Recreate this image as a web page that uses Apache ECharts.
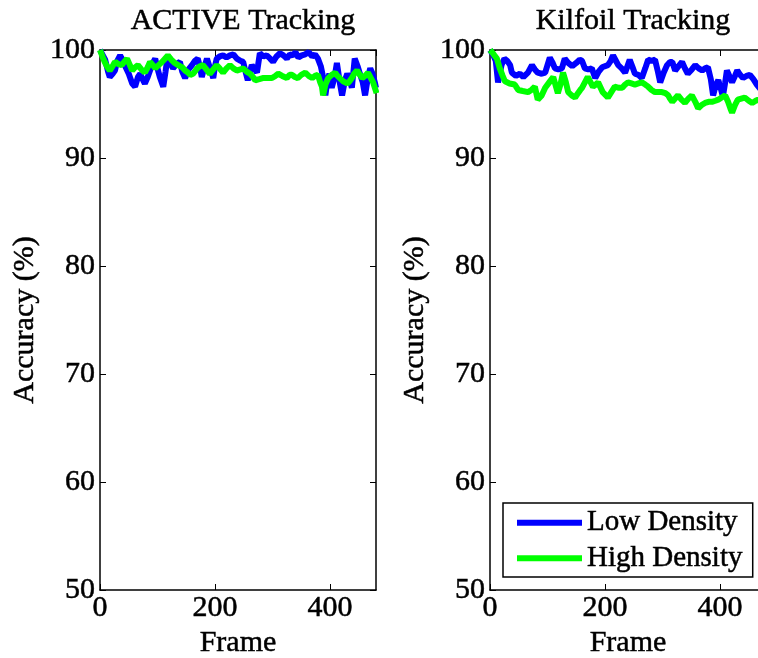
<!DOCTYPE html>
<html>
<head>
<meta charset="utf-8">
<script src="https://cdn.jsdelivr.net/npm/echarts@6/dist/echarts.min.js"></script>
<style>
  html, body { margin: 0; padding: 0; background: #fff; }
  #chart { width: 758px; height: 658px; }
</style>
</head>
<body>
<div id="chart"></div>
<script>
// ACTIVE tracking, low density
const activeLowFrames = [0, 5, 9, 14, 17, 22, 26, 30, 35, 40, 43, 50, 56, 61, 66, 70, 74, 78, 83, 87, 92, 96, 100, 104, 110, 114, 117, 122, 127, 133, 139, 143, 148, 154, 160, 165, 170, 174, 177, 182, 186, 192, 197, 200, 203, 208, 214, 220, 226, 232, 238, 244, 249, 253, 257, 261, 264, 268, 273, 278, 284, 290, 296, 301, 307, 313, 319, 325, 330, 335, 340, 345, 351, 357, 363, 369, 374, 379, 384, 388, 392, 395, 399, 403, 408, 412, 417, 421, 426, 430, 434, 438, 443, 448, 452, 457, 461, 466, 470, 474, 478, 480];
const activeLowValues = [100, 99.5, 99.1, 98.0, 97.5, 97.8, 98.1, 99.0, 99.5, 99.0, 98.6, 97.8, 96.9, 96.6, 97.5, 97.8, 97.3, 96.9, 97.5, 98.1, 98.8, 99.2, 98.3, 97.5, 96.6, 98.0, 99.2, 98.8, 98.3, 98.7, 98.9, 98.0, 97.4, 98.2, 98.6, 99.0, 99.2, 98.4, 97.5, 98.5, 99.2, 98.2, 97.4, 98.5, 99.2, 99.4, 99.5, 99.3, 99.5, 99.6, 99.2, 99.0, 98.9, 98.0, 97.2, 98.0, 98.6, 98.3, 97.9, 99.7, 99.4, 99.5, 99.2, 98.9, 99.4, 99.7, 99.5, 99.2, 99.6, 99.5, 99.8, 99.3, 99.5, 99.6, 99.8, 99.4, 99.6, 99.2, 98.5, 97.5, 95.8, 97.0, 97.8, 96.5, 97.5, 98.8, 97.0, 95.8, 97.2, 97.8, 97.3, 96.5, 99.2, 98.5, 97.8, 97.0, 95.8, 97.5, 98.3, 97.8, 97.0, 96.5];

// ACTIVE tracking, high density
const activeHighFrames = [0, 5, 9, 13, 17, 22, 26, 32, 38, 42, 47, 52, 56, 61, 66, 72, 78, 83, 87, 92, 96, 102, 108, 113, 118, 124, 130, 136, 143, 148, 153, 157, 162, 169, 174, 179, 185, 191, 197, 203, 208, 214, 220, 226, 232, 238, 244, 249, 255, 261, 266, 270, 277, 283, 290, 299, 305, 310, 317, 325, 330, 334, 339, 344, 350, 357, 363, 369, 374, 379, 383, 386, 388, 392, 397, 403, 409, 413, 417, 423, 430, 434, 438, 442, 447, 452, 456, 461, 466, 470, 475, 478, 481];
const activeHighValues = [100, 99.3, 98.8, 98.4, 98.1, 98.5, 98.9, 98.7, 98.6, 98.9, 99.2, 98.6, 98.1, 98.4, 98.6, 98.2, 97.9, 98.4, 98.9, 98.6, 98.3, 98.6, 98.9, 99.2, 99.5, 99.1, 98.8, 98.6, 98.4, 98.1, 97.9, 97.7, 97.8, 98.3, 98.5, 98.6, 98.2, 97.8, 98.2, 98.6, 98.3, 97.9, 98.3, 98.6, 98.3, 98.1, 98.2, 98.3, 98.0, 97.8, 97.5, 97.2, 97.3, 97.4, 97.4, 97.4, 97.6, 97.8, 97.6, 97.4, 97.7, 97.7, 97.5, 97.4, 97.7, 97.9, 97.6, 97.4, 97.6, 97.7, 97.0, 96.6, 95.8, 96.8, 97.4, 97.7, 97.9, 97.6, 97.4, 97.1, 96.9, 97.1, 97.4, 97.8, 98.1, 97.7, 97.4, 97.6, 97.9, 97.5, 97.0, 96.5, 96.0];

// Kilfoil tracking, low density
const kilfoilLowFrames = [0, 5, 10, 14, 17, 20, 25, 30, 35, 38, 45, 52, 58, 66, 73, 78, 83, 90, 96, 100, 104, 109, 113, 119, 125, 130, 136, 143, 150, 156, 160, 165, 171, 177, 183, 189, 195, 205, 210, 214, 218, 223, 229, 235, 239, 243, 248, 252, 258, 264, 270, 275, 281, 287, 292, 296, 302, 308, 313, 317, 322, 328, 334, 339, 344, 351, 357, 363, 369, 374, 379, 384, 388, 393, 397, 401, 405, 409, 412, 417, 421, 426, 430, 435, 440, 446, 452, 458, 464, 470, 480];
const kilfoilLowValues = [100, 99.6, 99.0, 97.0, 97.8, 98.6, 99.2, 99.0, 98.6, 97.9, 97.6, 97.8, 97.5, 97.9, 98.6, 98.2, 97.9, 97.8, 97.9, 98.6, 99.3, 98.8, 98.3, 98.2, 98.3, 99.2, 98.8, 98.5, 98.8, 99.1, 99.0, 98.3, 98.2, 98.3, 97.4, 98.0, 98.4, 98.6, 99.0, 99.5, 99.1, 98.6, 98.3, 97.9, 98.5, 99.1, 98.4, 97.8, 97.7, 97.4, 98.3, 99.1, 99.0, 99.1, 98.0, 97.0, 97.9, 98.6, 98.9, 98.9, 98.1, 98.5, 98.9, 98.3, 97.8, 98.2, 98.6, 98.3, 98.1, 98.3, 98.4, 97.3, 95.8, 96.8, 97.2, 96.5, 95.7, 97.0, 98.1, 97.5, 97.0, 97.6, 98.1, 97.7, 97.4, 97.6, 97.7, 97.3, 96.8, 96.4, 96.3];

// Kilfoil tracking, high density
const kilfoilHighFrames = [0, 5, 9, 12, 17, 22, 26, 34, 43, 49, 57, 66, 72, 78, 83, 90, 96, 103, 110, 118, 123, 127, 132, 136, 142, 148, 153, 157, 160, 165, 170, 175, 179, 184, 188, 196, 205, 211, 217, 224, 230, 235, 240, 246, 252, 258, 264, 270, 275, 281, 287, 293, 299, 305, 310, 313, 317, 322, 327, 333, 339, 345, 351, 357, 362, 368, 374, 380, 386, 392, 397, 403, 409, 414, 418, 421, 426, 431, 437, 443, 450, 456, 462, 466, 472, 480];
const kilfoilHighValues = [100, 99.7, 99.4, 99.2, 98.3, 97.6, 97.1, 96.9, 96.8, 96.3, 96.2, 96.1, 96.3, 96.6, 95.4, 95.8, 96.5, 97.0, 97.5, 96.0, 96.9, 97.9, 97.0, 96.1, 95.8, 95.6, 96.0, 96.3, 96.5, 97.0, 97.5, 97.0, 96.6, 96.8, 97.0, 96.1, 95.6, 96.1, 96.6, 96.5, 96.5, 96.8, 97.0, 96.9, 96.8, 96.9, 97.0, 96.8, 96.6, 96.3, 96.1, 96.1, 96.1, 96.0, 95.8, 95.5, 95.2, 95.5, 95.8, 95.4, 95.1, 95.5, 95.8, 95.2, 94.6, 94.9, 95.1, 95.2, 95.2, 95.3, 95.4, 95.6, 95.8, 95.2, 94.6, 94.2, 94.9, 95.4, 95.5, 95.6, 95.3, 95.1, 95.3, 95.4, 95.2, 95.0];

const xTicks = [0, 200, 400];
const yTicks = [50, 60, 70, 80, 90, 100];
const seriesNames = ['Low Density', 'High Density'];
const titles = ['ACTIVE Tracking', 'Kilfoil Tracking'];

const FONT = 'Liberation Serif';
const BLUE = '#0000ff';
const GREEN = '#00ff00';
// matlab export renders the serif text a bit heavier
const INK = { color: '#000', textBorderColor: '#000', textBorderWidth: 0.5 };

const zip = (xs, ys) => xs.map((x, i) => [x, ys[i]]);

const chart = echarts.init(document.getElementById('chart'));

const grids = [
    { left: 100, top: 50, width: 276, height: 540, outerBoundsMode: 'none', containLabel: false },
    { left: 490, top: 50, width: 276, height: 540, outerBoundsMode: 'none', containLabel: false }
];

function xAxes(gi) {
    const base = {
        gridIndex: gi,
        type: 'value',
        min: xTicks[0],
        max: 480,
        interval: xTicks[1] - xTicks[0],
        splitLine: { show: false },
        axisLine: { show: true, onZero: false, lineStyle: { color: '#000', width: 1.5 } },
        axisTick: { show: true, inside: true, length: 6, lineStyle: { color: '#000', width: 1 } }
    };
    return [
        Object.assign({}, base, {
            position: 'bottom',
            name: 'Frame',
            nameLocation: 'middle',
            nameGap: 37,
            nameTextStyle: Object.assign({ fontFamily: FONT, fontSize: 30 }, INK),
            axisLabel: Object.assign({
                fontFamily: FONT, fontSize: 30, margin: 3,
                showMaxLabel: false,
                formatter: v => (xTicks.indexOf(v) >= 0 ? String(v) : '')
            }, INK)
        }),
        Object.assign({}, base, { position: 'top', axisLabel: { show: false } })
    ];
}

function yAxes(gi) {
    const base = {
        gridIndex: gi,
        type: 'value',
        min: yTicks[0],
        max: yTicks[yTicks.length - 1],
        interval: yTicks[1] - yTicks[0],
        splitLine: { show: false },
        axisLine: { show: true, onZero: false, lineStyle: { color: '#000', width: 1.5 } },
        axisTick: { show: true, inside: true, length: 6, lineStyle: { color: '#000', width: 1 } }
    };
    return [
        Object.assign({}, base, {
            position: 'left',
            name: 'Accuracy (%)',
            nameLocation: 'middle',
            nameGap: 60,
            nameTextStyle: Object.assign({ fontFamily: FONT, fontSize: 30 }, INK),
            axisLabel: Object.assign({ fontFamily: FONT, fontSize: 30, margin: 5 }, INK)
        }),
        Object.assign({}, base, { position: 'right', axisLabel: { show: false } })
    ];
}

function lineSeries(name, data, gi, color) {
    return {
        name: name,
        type: 'line',
        xAxisIndex: gi * 2,
        yAxisIndex: gi * 2,
        data: data,
        showSymbol: false,
        symbol: 'none',
        color: color,
        lineStyle: { color: color, width: 6 },
        animation: false
    };
}

chart.setOption({
    animation: false,
    title: titles.map((t, i) => ({
        text: t,
        left: grids[i].left + 138,
        textAlign: 'center',
        top: 1,
        textStyle: Object.assign({ fontFamily: FONT, fontSize: 30, fontWeight: 'normal' }, INK)
    })),
    legend: {
        data: seriesNames,
        orient: 'vertical',
        left: 503,
        top: 503,
        icon: 'rect',
        itemWidth: 65,
        itemHeight: 6,
        itemGap: 6,
        padding: [5, 10, 4, 14],
        backgroundColor: '#fff',
        borderColor: '#000',
        borderWidth: 1.5,
        textStyle: Object.assign({ fontFamily: FONT, fontSize: 29 }, INK)
    },
    grid: grids,
    xAxis: [...xAxes(0), ...xAxes(1)],
    yAxis: [...yAxes(0), ...yAxes(1)],
    series: [
        lineSeries(seriesNames[0], zip(activeLowFrames, activeLowValues), 0, BLUE),
        lineSeries(seriesNames[1], zip(activeHighFrames, activeHighValues), 0, GREEN),
        lineSeries(seriesNames[0], zip(kilfoilLowFrames, kilfoilLowValues), 1, BLUE),
        lineSeries(seriesNames[1], zip(kilfoilHighFrames, kilfoilHighValues), 1, GREEN)
    ]
});
</script>
</body>
</html>
